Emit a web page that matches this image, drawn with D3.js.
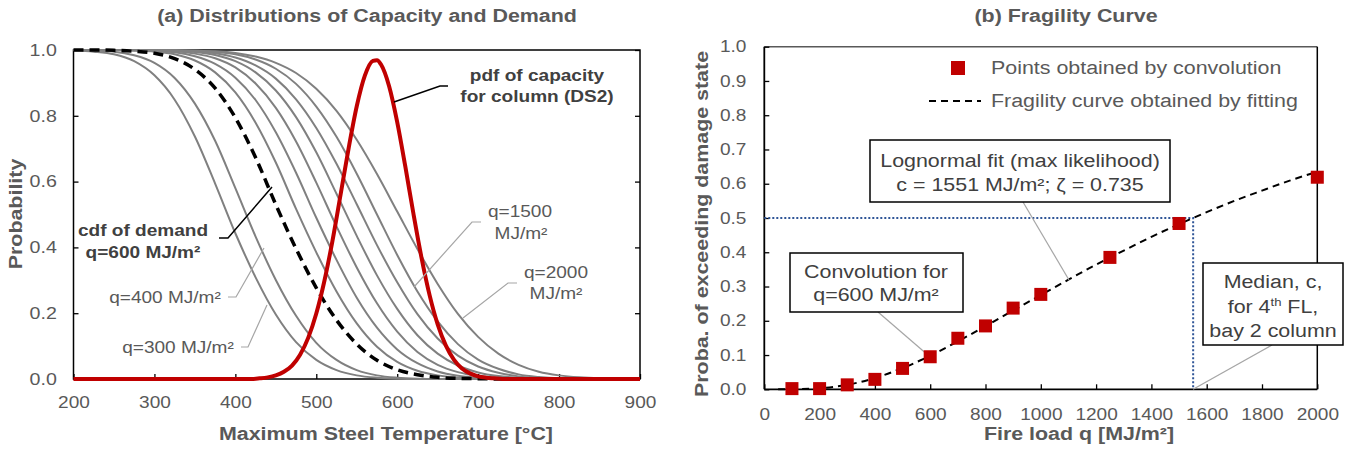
<!DOCTYPE html>
<html>
<head>
<meta charset="utf-8">
<script src="https://cdn.jsdelivr.net/npm/d3@7"></script>
<style>
body { margin: 0; background: #fff; }
svg text { font-family: "Liberation Sans", Arial, sans-serif; }
</style>
</head>
<body>
<div id="vis"></div>
<script>
'use strict';

// ---- panel (a): demand curves, prob. of exceeding temperature T ----
var tempGrid = [200,225,250,275,300,325,350,375,400,425,450,475,500,525,550,575,600,625,650,675,700,725,750,775,800,825,850,875,900];
var demand300  = [0.999,0.995,0.987,0.966,0.923,0.849,0.737,0.594,0.443,0.309,0.196,0.112,0.058,0.027,0.011,0.004,0.001,0,0,0,0,0,0,0,0,0,0,0,0];
var demand400  = [1,0.998,0.995,0.984,0.961,0.915,0.837,0.724,0.580,0.433,0.301,0.192,0.110,0.058,0.027,0.011,0.004,0.001,0,0,0,0,0,0,0,0,0,0,0];
var demand600  = [1,1,0.999,0.996,0.990,0.974,0.941,0.884,0.794,0.673,0.530,0.396,0.277,0.179,0.106,0.057,0.028,0.013,0.005,0.002,0.001,0,0,0,0,0,0,0,0];
var demand700  = [1,1,1,0.998,0.995,0.987,0.968,0.932,0.871,0.779,0.658,0.517,0.385,0.266,0.169,0.098,0.052,0.025,0.011,0.004,0.002,0.001,0,0,0,0,0,0,0];
var demand800  = [1,1,1,0.999,0.997,0.993,0.981,0.958,0.916,0.848,0.750,0.627,0.490,0.362,0.247,0.156,0.090,0.048,0.023,0.010,0.004,0.001,0,0,0,0,0,0,0];
var demand900  = [1,1,1,1,0.999,0.996,0.989,0.975,0.947,0.898,0.824,0.722,0.597,0.464,0.339,0.230,0.144,0.082,0.043,0.021,0.009,0.004,0.001,0,0,0,0,0,0];
var demand1000 = [1,1,1,1,0.999,0.998,0.994,0.985,0.966,0.932,0.877,0.796,0.689,0.563,0.435,0.315,0.213,0.133,0.077,0.041,0.020,0.009,0.004,0.001,0,0,0,0,0];
var demand1250 = [1,1,1,1,0.999,0.998,0.996,0.990,0.977,0.953,0.913,0.850,0.763,0.654,0.531,0.407,0.294,0.197,0.123,0.071,0.038,0.019,0.008,0.003,0.001,0,0,0,0];
var demand1500 = [1,1,1,1,1,0.999,0.998,0.994,0.987,0.971,0.943,0.897,0.828,0.736,0.624,0.500,0.377,0.266,0.175,0.106,0.059,0.031,0.014,0.006,0.002,0.001,0,0,0];
var demand2000 = [1,1,1,1,1,0.999,0.998,0.996,0.991,0.980,0.961,0.930,0.882,0.815,0.727,0.623,0.509,0.395,0.289,0.198,0.128,0.077,0.043,0.022,0.011,0.005,0.002,0.001,0];

// capacity pdf (column, DS2)
var pdfTemp = [200,420,430,440,450,460,470,480,490,500,510,520,530,540,550,560,570,575,580,590,600,610,620,630,640,650,660,670,680,690,700,710,720,730,900];
var pdfVal  = [0,0,0.002,0.005,0.011,0.022,0.041,0.074,0.125,0.199,0.298,0.420,0.560,0.702,0.829,0.922,0.967,0.969,0.956,0.890,0.781,0.646,0.503,0.369,0.255,0.166,0.102,0.059,0.032,0.017,0.008,0.004,0.002,0,0];

var tempTicks = [200,300,400,500,600,700,800,900];
var probTicksA = [0,0.2,0.4,0.6,0.8,1.0];

// ---- panel (b): fragility ----
var convLoad = [100,200,300,400,500,600,700,800,900,1000,1250,1500,2000];
var convProb = [0.002,0.002,0.013,0.029,0.061,0.095,0.149,0.185,0.237,0.277,0.385,0.484,0.619];
var fitLoad = [50,100,200,300,400,500,600,700,800,900,1000,1100,1200,1300,1400,1500,1600,1700,1800,1900,2000];
var fitProb = [0,0.0001,0.003,0.013,0.033,0.062,0.098,0.140,0.184,0.230,0.275,0.320,0.364,0.405,0.445,0.482,0.517,0.550,0.580,0.609,0.635];
var medianLoad = 1551;
var loadTicks = [0,200,400,600,800,1000,1200,1400,1600,1800,2000];
var probTicksB = [0,0.1,0.2,0.3,0.4,0.5,0.6,0.7,0.8,0.9,1.0];

var svg = d3.select('#vis').append('svg')
  .attr('width', 1353).attr('height', 452)
  .style('background', '#fff');

var SX = 1.19; // lettering in the source is a bit wide
var GREY_TXT = '#595959';

function label(g, x, y, s, o) {
  o = o || {};
  var tr = 'translate(' + x + ',' + y + ')' + (o.rot ? ' rotate(' + o.rot + ')' : '') + ' scale(' + SX + ',1)';
  return g.append('g').attr('transform', tr)
    .append('text')
    .attr('text-anchor', o.anchor || 'middle')
    .attr('font-size', o.size || 16)
    .attr('font-weight', o.bold ? 'bold' : 'normal')
    .attr('fill', o.color || GREY_TXT)
    .text(s);
}

function styleAxis(sel, size) {
  sel.select('.domain').remove();
  sel.selectAll('.tick line').attr('stroke', '#000').attr('stroke-width', 1.3);
  sel.selectAll('.tick text')
    .attr('fill', GREY_TXT)
    .attr('font-size', size)
    .attr('font-family', '"Liberation Sans", Arial, sans-serif')
    .attr('transform', 'scale(' + SX + ',1)');
}

/* ================= panel (a) ================= */
var gA = svg.append('g');
var xA = d3.scaleLinear().domain([200, 900]).range([73.5, 640]);
var yA = d3.scaleLinear().domain([0, 1]).range([379, 50]);

gA.append('rect')
  .attr('x', xA(200)).attr('y', yA(1))
  .attr('width', xA(900) - xA(200)).attr('height', yA(0) - yA(1))
  .attr('fill', 'none').attr('stroke', '#000').attr('stroke-width', 1.5);

gA.append('g').attr('transform', 'translate(0,' + yA(0) + ')')
  .call(d3.axisBottom(xA).tickValues(tempTicks).tickFormat(d3.format('d')).tickSize(-5).tickSizeOuter(0).tickPadding(18))
  .call(styleAxis, 16);
gA.append('g').attr('transform', 'translate(' + xA(200) + ',0)')
  .call(d3.axisLeft(yA).tickValues(probTicksA).tickFormat(d3.format('.1f')).tickSize(-5).tickSizeOuter(0).tickPadding(14))
  .call(styleAxis, 16.5);
gA.append('g').attr('transform', 'translate(' + xA(900) + ',0)')
  .call(d3.axisRight(yA).tickValues(probTicksA).tickFormat('').tickSize(-5).tickSizeOuter(0))
  .call(styleAxis, 16);

var lineA = d3.line().x(function(d){ return xA(d[0]); }).y(function(d){ return yA(d[1]); }).curve(d3.curveMonotoneX);
var greys = [demand300, demand400, demand700, demand800, demand900, demand1000, demand1250, demand1500, demand2000];
greys.forEach(function(s){
  gA.append('path').datum(d3.zip(tempGrid, s))
    .attr('d', lineA).attr('fill', 'none')
    .attr('stroke', '#808080').attr('stroke-width', 2);
});
gA.append('path').datum(d3.zip(tempGrid, demand600))
  .attr('d', lineA).attr('fill', 'none')
  .attr('stroke', '#000').attr('stroke-width', 3.5).attr('stroke-dasharray', '10,6');
gA.append('path').datum(d3.zip(pdfTemp, pdfVal))
  .attr('d', lineA).attr('fill', 'none')
  .attr('stroke', '#C00000').attr('stroke-width', 4);

// annotations (a)
function pointer(g, pts, col, w) {
  g.append('polyline').attr('points', pts.map(function(p){ return p.join(','); }).join(' '))
    .attr('fill', 'none').attr('stroke', col).attr('stroke-width', w);
}
pointer(gA, [[448,86],[440,86],[394,102]], '#000', 1.5);
label(gA, 537, 81, 'pdf of capacity', {bold: true, color: '#404040'});
label(gA, 537, 102, 'for column (DS2)', {bold: true, color: '#404040'});

pointer(gA, [[219,238],[228,238],[272,187]], '#000', 1.5);
label(gA, 143, 236, 'cdf of demand', {bold: true, color: '#404040'});
label(gA, 143, 258, 'q=600 MJ/m²', {bold: true, color: '#404040'});

pointer(gA, [[481,222],[472,222],[414,287]], '#A6A6A6', 1.2);
label(gA, 520, 217, 'q=1500');
label(gA, 521, 239, 'MJ/m²');

pointer(gA, [[517,283],[508,283],[463,318]], '#A6A6A6', 1.2);
label(gA, 556, 278, 'q=2000');
label(gA, 556, 299, 'MJ/m²');

pointer(gA, [[228,297],[236,297],[264,248]], '#A6A6A6', 1.2);
label(gA, 165, 303, 'q=400 MJ/m²');

pointer(gA, [[241,347],[248,347],[267,305]], '#A6A6A6', 1.2);
label(gA, 178, 353, 'q=300 MJ/m²');

label(gA, 367, 22, '(a) Distributions of Capacity and Demand', {bold: true, size: 18});
label(gA, 386, 440, 'Maximum Steel Temperature [°C]', {bold: true, size: 18});
label(gA, 22, 214, 'Probability', {bold: true, size: 18, rot: -90});

/* ================= panel (b) ================= */
var gB = svg.append('g');
var xB = d3.scaleLinear().domain([0, 2000]).range([764.3, 1317.3]);
var yB = d3.scaleLinear().domain([0, 1]).range([389.3, 46.7]);

gB.append('line').attr('x1', xB(0)).attr('x2', xB(2000)).attr('y1', yB(1)).attr('y2', yB(1))
  .attr('stroke', '#595959').attr('stroke-width', 1.5);
gB.append('line').attr('x1', xB(2000)).attr('x2', xB(2000)).attr('y1', yB(1)).attr('y2', yB(0))
  .attr('stroke', '#000').attr('stroke-width', 1.5);
gB.append('line').attr('x1', xB(0)).attr('x2', xB(0)).attr('y1', yB(1)).attr('y2', yB(0))
  .attr('stroke', '#000').attr('stroke-width', 1.8);
gB.append('line').attr('x1', xB(0)).attr('x2', xB(2000)).attr('y1', yB(0)).attr('y2', yB(0))
  .attr('stroke', '#000').attr('stroke-width', 1.8);

gB.append('g').attr('transform', 'translate(0,' + yB(0) + ')')
  .call(d3.axisBottom(xB).tickValues(loadTicks).tickFormat(d3.format('d')).tickSize(-5).tickSizeOuter(0).tickPadding(19))
  .call(styleAxis, 16);
gB.append('g').attr('transform', 'translate(' + xB(0) + ',0)')
  .call(d3.axisLeft(yB).tickValues(probTicksB).tickFormat(d3.format('.1f')).tickSize(-5).tickSizeOuter(0).tickPadding(15))
  .call(styleAxis, 16);

// median guide lines
gB.append('polyline')
  .attr('points', [[xB(0), yB(0.5)], [xB(medianLoad), yB(0.5)], [xB(medianLoad), yB(0)]].map(function(p){ return p.join(','); }).join(' '))
  .attr('fill', 'none').attr('stroke', '#2F5597').attr('stroke-width', 2).attr('stroke-dasharray', '2,2');

var lineB = d3.line().x(function(d){ return xB(d[0]); }).y(function(d){ return yB(d[1]); }).curve(d3.curveMonotoneX);
gB.append('path').datum(d3.zip(fitLoad, fitProb))
  .attr('d', lineB).attr('fill', 'none')
  .attr('stroke', '#000').attr('stroke-width', 2).attr('stroke-dasharray', '7,5');

// boxes and pointers (drawn before squares)
function box(g, x, y, w, h) {
  g.append('rect').attr('x', x).attr('y', y).attr('width', w).attr('height', h)
    .attr('fill', '#fff').attr('stroke', '#000').attr('stroke-width', 1.5);
}
pointer(gB, [[1023,202],[1069,280]], '#A6A6A6', 1.2);
box(gB, 870, 140, 300, 62);
label(gB, 1020, 167, 'Lognormal fit (max likelihood)', {size: 18, color: '#404040'});
label(gB, 1020, 191, 'c = 1551 MJ/m²; ζ = 0.735', {size: 18, color: '#404040'});

pointer(gB, [[878,312],[929,356]], '#A6A6A6', 1.2);
box(gB, 790, 253, 173, 59);
label(gB, 876, 278, 'Convolution for', {size: 18, color: '#404040'});
label(gB, 876, 301, 'q=600 MJ/m²', {size: 18, color: '#404040'});

pointer(gB, [[1272,345],[xB(medianLoad),yB(0)]], '#A6A6A6', 1.2);
box(gB, 1203, 263, 140, 82);
label(gB, 1273, 288, 'Median, c,', {size: 18, color: '#404040'});
var fl = label(gB, 1273, 313, 'for 4', {size: 18, color: '#404040'});
fl.append('tspan').attr('dy', -7).attr('font-size', 11).text('th');
fl.append('tspan').attr('dy', 7).text(' FL,');
label(gB, 1273, 337, 'bay 2 column', {size: 18, color: '#404040'});

gB.selectAll('rect.pt').data(d3.zip(convLoad, convProb)).enter()
  .append('rect').attr('class', 'pt')
  .attr('x', function(d){ return xB(d[0]) - 6.5; })
  .attr('y', function(d){ return yB(d[1]) - 6.5; })
  .attr('width', 13).attr('height', 13)
  .attr('fill', '#C00000');

// legend
gB.append('rect').attr('x', 951).attr('y', 61).attr('width', 14).attr('height', 14).attr('fill', '#C00000');
label(gB, 991, 74, 'Points obtained by convolution', {size: 18, anchor: 'start'});
gB.append('line').attr('x1', 929).attr('x2', 981).attr('y1', 101).attr('y2', 101)
  .attr('stroke', '#000').attr('stroke-width', 2).attr('stroke-dasharray', '7,5');
label(gB, 991, 107, 'Fragility curve obtained by fitting', {size: 18, anchor: 'start'});

label(gB, 1066, 22, '(b) Fragility Curve', {bold: true, size: 18});
label(gB, 1079, 440, 'Fire load q [MJ/m²]', {bold: true, size: 18});
label(gB, 708, 224, 'Proba. of exceeding damage state', {bold: true, size: 18, rot: -90});
</script>
</body>
</html>
